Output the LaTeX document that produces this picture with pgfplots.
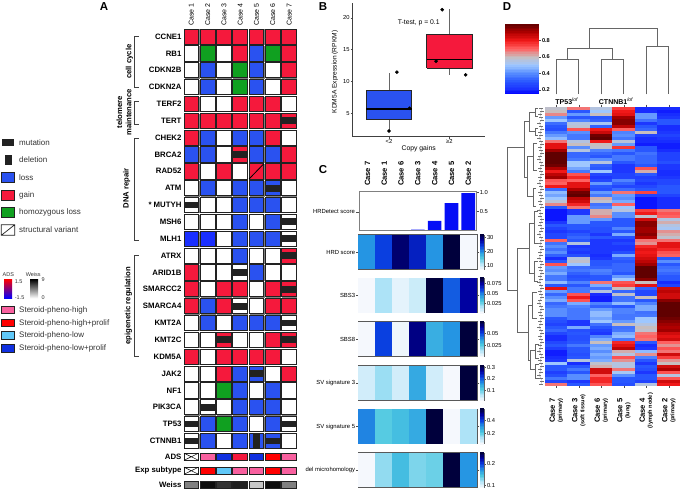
\documentclass[border=0pt]{standalone}
\usepackage{fontspec}
\setmainfont{Liberation Sans}
\usepackage{pgfplots}
\usepackage{pgfplotstable}
\pgfplotsset{compat=1.18}
\newcommand\fs[1]{\fontsize{#1}{#1}\selectfont}

\definecolor{cgain}{HTML}{F5193C}
\definecolor{closs}{HTML}{2A52F0}
\definecolor{closs2}{HTML}{1A2FFF}
\definecolor{chomo}{HTML}{10A020}
\definecolor{cedge}{HTML}{222222}
\definecolor{cpink}{HTML}{F8609F}
\definecolor{csky}{HTML}{60C8F8}
\definecolor{cnavy}{HTML}{1030E0}
\definecolor{ctext}{HTML}{333333}

% panel A cells, sizes in px (1pt = 1px)
\pgfdeclareplotmark{cell}{%
  \begin{pgfscope}\pgfsetfillcolor{gray}%
  \pgfpathrectangle{\pgfpoint{-6.8pt}{-8.4pt}}{\pgfpoint{15pt}{15.6pt}}\pgfusepathqfill\end{pgfscope}%
  \pgfsetlinewidth{0.8pt}%
  \pgfpathrectangle{\pgfpoint{-7.35pt}{-7.6pt}}{\pgfpoint{14.7pt}{15.2pt}}\pgfusepathqfillstroke}
\pgfdeclareplotmark{mut}{%
  \pgfpathrectangle{\pgfpoint{-7.35pt}{-3.4pt}}{\pgfpoint{14.7pt}{6.8pt}}\pgfusepathqfill}
\pgfdeclareplotmark{del}{%
  \pgfpathrectangle{\pgfpoint{-3.4pt}{-7.6pt}}{\pgfpoint{6.8pt}{15.2pt}}\pgfusepathqfill}
\pgfdeclareplotmark{sv}{%
  \pgfsetlinewidth{0.8pt}\pgfpathmoveto{\pgfpoint{-7.35pt}{-7.6pt}}%
  \pgfpathlineto{\pgfpoint{7.35pt}{7.6pt}}\pgfusepathqstroke}
\pgfdeclareplotmark{acell}{%
  \pgfsetlinewidth{0.7pt}%
  \pgfpathrectangle{\pgfpoint{-7.35pt}{-3.6pt}}{\pgfpoint{14.7pt}{7.2pt}}\pgfusepathqfillstroke}
\pgfdeclareplotmark{across}{%
  \pgfsetlinewidth{0.5pt}\pgfpathmoveto{\pgfpoint{-7.35pt}{-3.6pt}}\pgfpathlineto{\pgfpoint{7.35pt}{3.6pt}}%
  \pgfpathmoveto{\pgfpoint{-7.35pt}{3.6pt}}\pgfpathlineto{\pgfpoint{7.35pt}{-3.6pt}}\pgfusepathqstroke}
% panel C and D heatmap cells, and the strips of their colour bars
\pgfdeclareplotmark{hmC}{%
  \pgfpathrectangle{\pgfpoint{-8.55pt}{-17.2pt}}{\pgfpoint{17.1pt}{34.4pt}}\pgfusepathqfill}
\pgfdeclareplotmark{hmD}{%
  \pgfpathrectangle{\pgfpoint{-11.3pt}{-1.55pt}}{\pgfpoint{22.6pt}{3.1pt}}\pgfusepathqfill}
\pgfdeclareplotmark{cbC}{%
  \pgfpathrectangle{\pgfpoint{-2pt}{-0.85pt}}{\pgfpoint{4pt}{1.7pt}}\pgfusepathqfill}
\pgfdeclareplotmark{cbD}{%
  \pgfpathrectangle{\pgfpoint{-17pt}{-0.95pt}}{\pgfpoint{34pt}{1.9pt}}\pgfusepathqfill}

\pgfplotsset{
  colormap={hmblue}{rgb255(0)=(245,248,253) rgb255(1)=(174,227,247) rgb255(2)=(77,200,224)
    rgb255(3)=(37,149,227) rgb255(4)=(10,63,224) rgb255(5)=(0,0,160) rgb255(6)=(0,0,60)},
  colormap={hmred}{[1pt] rgb255(0pt)=(0,0,255) rgb255(6pt)=(26,48,255) rgb255(16pt)=(42,88,255)
    rgb255(26pt)=(90,144,255) rgb255(36pt)=(160,200,255) rgb255(46pt)=(200,190,190)
    rgb255(56pt)=(255,96,96) rgb255(66pt)=(240,24,24) rgb255(76pt)=(176,0,0) rgb255(86pt)=(96,0,0)},
  hmrow/.style={scale only axis,width=119pt,height=34.4pt,xmin=-0.5,xmax=6.5,ymin=-0.5,ymax=0.5,
    xtick=\empty,ytick={0},tick align=outside,major tick length=2pt,
    yticklabel style={font=\fs{5.9},inner sep=1pt},
    axis on top,axis line style={draw=black!65,line width=0.8pt},
    tick style={draw=black!70,line width=0.4pt},colormap name=hmblue},
  hmcells/.style={scatter,only marks,mark=hmC,point meta=explicit},
}

% colour bar of a panel C row: bottom y, tick places on the 0..6 ramp, tick labels
\newcommand\cbar[3]{%
\begin{axis}[at={(480.3pt,#1pt)},anchor=south west,scale only axis,width=4pt,height=34.4pt,
  xmin=-0.5,xmax=0.5,ymin=0,ymax=6,xtick=\empty,ytick={#2},yticklabels={#3},ytick pos=right,yticklabel pos=right,
  tick align=outside,major tick length=1.5pt,tick style={draw=black!70,line width=0.4pt},
  yticklabel style={font=\fs{5.8},inner sep=1pt},axis on top,
  axis line style={draw=black!60,line width=0.5pt},colormap name=hmblue,point meta min=0,point meta max=6]
\addplot[scatter,only marks,mark=cbC,point meta=explicit] coordinates {
(0,0)[0] (0,.25)[.25] (0,.5)[.5] (0,.75)[.75] (0,1)[1] (0,1.25)[1.25] (0,1.5)[1.5] (0,1.75)[1.75]
(0,2)[2] (0,2.25)[2.25] (0,2.5)[2.5] (0,2.75)[2.75] (0,3)[3] (0,3.25)[3.25] (0,3.5)[3.5] (0,3.75)[3.75]
(0,4)[4] (0,4.25)[4.25] (0,4.5)[4.5] (0,4.75)[4.75] (0,5)[5] (0,5.25)[5.25] (0,5.5)[5.5] (0,5.75)[5.75] (0,6)[6]};
\end{axis}}

\pgfplotstableread{
c1 c2 c3 c4 c5 c6
.58 .68 .55 .75 .2 .2
.6 .3 .5 .8 .2 .18
.66 .42 .6 .82 .42 .2
.42 .3 .3 .92 .42 .22
.5 .38 .32 .95 .35 .3
.34 .55 .52 .95 .22 .3
.3 .57 .32 .88 .3 .2
.28 .72 .8 .7 .33 .2
.36 .4 .86 .38 .6 .22
.42 .36 .98 .4 .25 .25
.48 .36 1 .36 .2 .22
.68 .55 .8 .56 .2 .2
.82 .6 .6 .42 .18 .18
.82 .4 .58 .76 .3 .18
.92 .55 .38 .36 .3 .2
1 .33 .33 .3 .35 .25
1 .33 .3 .36 .33 .25
1 .36 .4 .36 .33 .25
1 .5 .55 .3 .33 .28
.98 .5 .32 .22 .3 .22
.9 .44 .3 .22 .72 .22
.8 .36 .5 .22 .62 .2
.88 .72 .26 .25 .3 .2
.92 .78 .22 .25 .24 .22
.72 .7 .26 .38 .26 .26
.7 .82 .42 .32 .22 .26
.8 .82 .3 .26 .26 .3
.34 .9 .28 .34 .3 .3
.48 .98 .42 .68 .74 .3
.44 1 .36 .42 .25 .25
.5 .88 .62 .4 .17 .2
.56 .85 .58 .45 .17 .2
.66 .78 .35 .7 .17 .2
.3 .68 .38 .5 .17 .2
.17 .22 .62 .55 .75 .68
.17 .22 .62 .4 .8 .72
.17 .42 .66 .4 .58 .7
.17 .42 .42 .3 .85 .55
.22 .42 .3 .3 .95 .62
.3 .3 .3 .3 .95 .55
.25 .3 .28 .38 .92 .52
.22 .25 .28 .3 .92 .65
.26 .3 .22 .45 .95 .62
.26 .33 .3 .28 .9 .58
.7 .3 .22 .22 .68 .68
.35 .55 .22 .26 .65 .82
.4 .22 .22 .22 .78 .82
.35 .25 .22 .22 .82 .78
.4 .22 .22 .28 .8 .72
.32 .28 .2 .45 .82 .7
.2 .55 .22 .32 .85 .3
.3 .58 .3 .3 .88 .4
.72 .5 .3 .33 .92 .3
.42 .34 .32 .33 1 .34
.4 .36 .38 .33 1 .36
.45 .32 .36 .3 1 .33
.36 .28 .3 .42 1 .3
.36 .3 .3 .5 .95 .3
.48 .38 .68 .72 .6 .2
.3 .3 .45 .75 .82 .25
.82 .36 .35 .6 .32 .85
.42 .36 .55 .33 .26 .88
.33 .72 .2 .58 .26 .85
.4 .8 .18 .35 .6 .85
.45 .72 .18 .35 .3 .95
.33 .45 .38 .48 .38 1
.36 .38 .32 .3 .45 1
.4 .36 .42 .38 .45 1
.4 .36 .48 .38 .35 1
.4 .36 .48 .36 .36 1
.3 .36 .44 .36 .5 .98
.28 .22 .5 .42 .5 .95
.25 .22 .35 .6 .55 .92
.3 .45 .3 .35 .6 .9
.33 .28 .25 .36 .58 .92
.26 .3 .22 .45 .68 .85
.2 .28 .38 .48 .7 .82
.2 .28 .45 .36 .68 .85
.26 .3 .6 .78 .3 .7
.3 .36 .42 .82 .2 .65
.24 .3 .45 .88 .22 .72
.18 .3 .4 .62 .48 .68
.18 .28 .45 .55 .65 .85
.2 .3 .42 .72 .38 .75
.22 .55 .45 .65 .3 .65
.5 .2 .58 .55 .22 .6
.3 .3 .62 .55 .3 .85
.3 .36 .85 .68 .28 .9
.24 .3 .85 .52 .22 .72
.28 .4 .7 .4 .3 .55
.36 .4 .78 .3 .3 .72
.26 .22 .78 .3 .25 .85
.68 .3 .72 .28 .55 .8
}\heat

\begin{document}
\begin{tikzpicture}
\useasboundingbox (0,0) rectangle (680pt,489pt);

% ---- A: alteration matrix
\begin{axis}[at={(183.15pt,460.92pt)},anchor=north west,scale only axis,width=114.1pt,height=463.375pt,
  xmin=0.5,xmax=7.5,ymin=0.5,ymax=28,y dir=reverse,clip=false,
  xtick={1,...,7},xticklabels={Case 1,Case 2,Case 3,Case 4,Case 5,Case 6,Case 7},
  xticklabel pos=upper,xticklabel style={rotate=90,anchor=west,font=\fs{7},inner sep=1pt,xshift=1pt},
  ytick={1,...,25,25.94,26.77,27.62},
  yticklabels={CCNE1,RB1,CDKN2B,CDKN2A,TERF2,TERT,CHEK2,BRCA2,RAD52,ATM,* MUTYH,MSH6,MLH1,ATRX,ARID1B,SMARCC2,SMARCA4,KMT2A,KMT2C,KDM5A,JAK2,NF1,PIK3CA,TP53,CTNNB1,ADS,Exp subtype,Weiss},
  yticklabel style={font=\fs{7.8}\bfseries,inner sep=1.5pt},
  major tick length=0pt,axis line style={draw=none},tick style={draw=none}]
\addplot[scatter,only marks,point meta=explicit symbolic,
  scatter/classes={
    G={mark=cell,fill=cgain,draw=cedge},
    L={mark=cell,fill=closs,draw=cedge},
    B={mark=cell,fill=closs2,draw=cedge},
    H={mark=cell,fill=chomo,draw=cedge},
    W={mark=cell,fill=white,draw=cedge}}] coordinates {
(1,1)[G] (2,1)[G] (3,1)[G] (4,1)[G] (5,1)[G] (6,1)[G] (7,1)[G]
(1,2)[W] (2,2)[H] (3,2)[W] (4,2)[G] (5,2)[L] (6,2)[H] (7,2)[G]
(1,3)[W] (2,3)[L] (3,3)[W] (4,3)[H] (5,3)[L] (6,3)[W] (7,3)[G]
(1,4)[W] (2,4)[L] (3,4)[W] (4,4)[H] (5,4)[L] (6,4)[W] (7,4)[G]
(1,5)[G] (2,5)[W] (3,5)[W] (4,5)[G] (5,5)[G] (6,5)[G] (7,5)[W]
(1,6)[G] (2,6)[G] (3,6)[G] (4,6)[G] (5,6)[G] (6,6)[G] (7,6)[G]
(1,7)[G] (2,7)[L] (3,7)[W] (4,7)[L] (5,7)[L] (6,7)[G] (7,7)[W]
(1,8)[L] (2,8)[L] (3,8)[W] (4,8)[G] (5,8)[L] (6,8)[L] (7,8)[G]
(1,9)[G] (2,9)[W] (3,9)[G] (4,9)[W] (5,9)[G] (6,9)[G] (7,9)[G]
(1,10)[W] (2,10)[L] (3,10)[W] (4,10)[L] (5,10)[L] (6,10)[L] (7,10)[W]
(1,11)[W] (2,11)[W] (3,11)[W] (4,11)[L] (5,11)[L] (6,11)[L] (7,11)[W]
(1,12)[W] (2,12)[W] (3,12)[W] (4,12)[L] (5,12)[W] (6,12)[L] (7,12)[W]
(1,13)[B] (2,13)[B] (3,13)[W] (4,13)[L] (5,13)[L] (6,13)[L] (7,13)[W]
(1,14)[W] (2,14)[W] (3,14)[W] (4,14)[L] (5,14)[W] (6,14)[W] (7,14)[G]
(1,15)[G] (2,15)[W] (3,15)[W] (4,15)[W] (5,15)[L] (6,15)[W] (7,15)[W]
(1,16)[G] (2,16)[W] (3,16)[G] (4,16)[G] (5,16)[W] (6,16)[G] (7,16)[G]
(1,17)[G] (2,17)[L] (3,17)[G] (4,17)[W] (5,17)[W] (6,17)[G] (7,17)[G]
(1,18)[W] (2,18)[L] (3,18)[W] (4,18)[L] (5,18)[L] (6,18)[L] (7,18)[W]
(1,19)[W] (2,19)[W] (3,19)[G] (4,19)[W] (5,19)[W] (6,19)[G] (7,19)[G]
(1,20)[G] (2,20)[W] (3,20)[G] (4,20)[G] (5,20)[G] (6,20)[G] (7,20)[W]
(1,21)[W] (2,21)[W] (3,21)[G] (4,21)[L] (5,21)[L] (6,21)[W] (7,21)[G]
(1,22)[W] (2,22)[W] (3,22)[H] (4,22)[L] (5,22)[W] (6,22)[L] (7,22)[W]
(1,23)[W] (2,23)[W] (3,23)[W] (4,23)[L] (5,23)[L] (6,23)[L] (7,23)[W]
(1,24)[W] (2,24)[L] (3,24)[H] (4,24)[L] (5,24)[W] (6,24)[L] (7,24)[W]
(1,25)[W] (2,25)[L] (3,25)[W] (4,25)[L] (5,25)[L] (6,25)[L] (7,25)[W]
};
% mutations
\addplot[only marks,mark=mut,mark options={fill=cedge,draw=none}] coordinates {
(7,6) (4,8) (6,10) (1,11) (7,12) (7,13) (7,14) (4,15) (7,16) (4,17) (7,18) (3,19) (7,19) (5,21) (2,23) (1,24) (7,24) (1,25) (6,25)};
% deletion and structural variant
\addplot[only marks,mark=del,mark options={fill=cedge,draw=none}] coordinates {(5,25)};
\addplot[only marks,mark=sv,mark options={draw=black}] coordinates {(5,9)};
% annotation rows
\addplot[scatter,only marks,point meta=explicit symbolic,
  scatter/classes={
    x={mark=acell,fill=white,draw=cedge},
    p={mark=acell,fill=cpink,draw=cedge},
    b={mark=acell,fill=cnavy,draw=cedge},
    c={mark=acell,fill=cgain,draw=cedge},
    r={mark=acell,fill=red,draw=cedge},
    s={mark=acell,fill=csky,draw=cedge},
    g={mark=acell,fill=black!50,draw=cedge},
    k={mark=acell,fill=black!95,draw=cedge},
    d={mark=acell,fill=black!80,draw=cedge},
    e={mark=acell,fill=black!88,draw=cedge},
    l={mark=acell,fill=black!22,draw=cedge}}] coordinates {
(1,25.94)[x] (2,25.94)[p] (3,25.94)[b] (4,25.94)[c] (5,25.94)[b] (6,25.94)[r] (7,25.94)[p]
(1,26.77)[x] (2,26.77)[r] (3,26.77)[s] (4,26.77)[p] (5,26.77)[p] (6,26.77)[r] (7,26.77)[p]
(1,27.62)[g] (2,27.62)[k] (3,27.62)[d] (4,27.62)[e] (5,27.62)[l] (6,27.62)[k] (7,27.62)[g]
};
\addplot[only marks,mark=across,mark options={draw=black}] coordinates {(1,25.94) (1,26.77)};
\end{axis}

% ---- B: box plot
\begin{axis}[at={(352.7pt,352.3pt)},anchor=south west,scale only axis,width=132.3pt,height=133.7pt,
  xmin=0.398,xmax=2.59,ymin=1.31,ymax=22.36,axis lines=left,axis line style={-,draw=black!75,line width=0.9pt},
  xtick={1,2},xticklabels={<2,≥2},ytick={5,10,15,20},tick align=outside,major tick length=2pt,
  tick style={draw=black!70,line width=0.5pt},clip=false,
  ticklabel style={font=\fs{5.8},inner sep=1pt},/pgf/number format/assume math mode=true]
% x axis line
\addplot[black!75,line width=0.9pt,mark=none] coordinates {(0.398,1.31) (2.59,1.31)};
% whiskers
\addplot[black!60,line width=0.9pt,mark=none] coordinates {(1,2.2) (1,4.05)};
\addplot[black!60,line width=0.9pt,mark=none] coordinates {(1,8.56) (1,11.3)};
\addplot[black!60,line width=0.9pt,mark=none] coordinates {(2,11.03) (2,12.13)};
\addplot[black!60,line width=0.9pt,mark=none] coordinates {(2,17.44) (2,21.4)};
% boxes
\addplot[fill=closs,draw=black!85,line width=0.8pt,mark=none] coordinates {(0.625,4.05) (1.375,4.05) (1.375,8.56) (0.625,8.56) (0.625,4.05)};
\addplot[fill=cgain,draw=black!85,line width=0.8pt,mark=none] coordinates {(1.625,12.13) (2.375,12.13) (2.375,17.44) (1.625,17.44) (1.625,12.13)};
% medians
\addplot[black,line width=1.2pt,mark=none] coordinates {(0.625,5.68) (1.375,5.68)};
\addplot[black,line width=1.2pt,mark=none] coordinates {(1.625,13.44) (2.375,13.44)};
\addplot[only marks,mark=*,mark size=1.6pt,black] coordinates {
(1.13,11.46) (1,2.2) (1.34,5.78) (1.88,21.3) (1.78,13.19) (2.27,11.05)};
\end{axis}

% ---- C: HRDetect bars
\begin{axis}[at={(359pt,258.5pt)},anchor=south west,scale only axis,width=117.7pt,height=38.8pt,
  xmin=-0.5,xmax=6.5,ymin=0,ymax=1.02,
  xtick={0,...,6},xticklabels={Case 7,Case 1,Case 6,Case 3,Case 4,Case 5,Case 2},
  xticklabel pos=upper,xticklabel style={rotate=90,anchor=west,font=\fs{7.6}\bfseries,inner sep=1pt,xshift=2.5pt},
  xtick style={draw=none},ytick pos=right,yticklabel pos=right,ytick={0.5,1},yticklabels={0.5,1.0},
  tick align=outside,major tick length=2pt,ytick style={draw=black!70,line width=0.4pt},
  yticklabel style={font=\fs{5.8},inner sep=1pt},axis line style={draw=black!50,line width=0.8pt},axis on top]
\addplot[ybar,bar width=13.6pt,fill=blue!70!cnavy,draw=none] coordinates {
(0,0) (1,0) (2,0) (3,0.02) (4,0.25) (5,0.72) (6,0.98)};
\end{axis}

% ---- C: heatmap rows
\begin{axis}[hmrow,at={(358.3pt,219.7pt)},anchor=south west,yticklabels={HRD score},point meta min=7.5,point meta max=31.5]
\addplot[hmcells] coordinates {(0,0)[19.5] (1,0)[23.5] (2,0)[29.5] (3,0)[25.5] (4,0)[19.5] (5,0)[31.5] (6,0)[7.5]};
\end{axis}
\cbar{219.7}{.625,3.125,5.625}{10,20,30}
\begin{axis}[hmrow,at={(358.3pt,176.3pt)},anchor=south west,yticklabels={SBS3},point meta min=0.0025,point meta max=0.0885]
\addplot[hmcells] coordinates {(0,0)[.0025] (1,0)[.017] (2,0)[.006] (3,0)[.011] (4,0)[.0885] (5,0)[.055] (6,0)[.074]};
\end{axis}
\cbar{176.3}{1.57,3.31,5.06}{0.025,0.05,0.075}
\begin{axis}[hmrow,at={(358.3pt,132.7pt)},anchor=south west,yticklabels={SBS8},point meta min=0.0013,point meta max=0.0746]
\addplot[hmcells] coordinates {(0,0)[.0013] (1,0)[.05] (2,0)[.0025] (3,0)[.066] (4,0)[.032] (5,0)[.038] (6,0)[.0746]};
\end{axis}
\cbar{132.7}{1.94,3.99}{0.025,0.05}
\begin{axis}[hmrow,at={(358.3pt,88.7pt)},anchor=south west,yticklabels={SV signature 3},point meta min=0.014,point meta max=0.311]
\addplot[hmcells] coordinates {(0,0)[.039] (1,0)[.073] (2,0)[.039] (3,0)[.143] (4,0)[.039] (5,0)[.014] (6,0)[.311]};
\end{axis}
\cbar{88.7}{1.74,3.76,5.78}{0.1,0.2,0.3}
\begin{axis}[hmrow,at={(358.3pt,45.3pt)},anchor=south west,yticklabels={SV signature 5},point meta min=0.04,point meta max=0.569]
\addplot[hmcells] coordinates {(0,0)[.322] (1,0)[.208] (2,0)[.234] (3,0)[.269] (4,0)[.569] (5,0)[.04] (6,0)[.128]};
\end{axis}
\cbar{45.3}{1.81,4.08}{0.2,0.4}
\begin{axis}[hmrow,at={(358.3pt,1.7pt)},anchor=south west,yticklabels={del microhomology},point meta min=0.089,point meta max=0.252]
\addplot[hmcells] coordinates {(0,0)[.089] (1,0)[.124] (2,0)[.149] (3,0)[.13] (4,0)[.135] (5,0)[.252] (6,0)[.17]};
\end{axis}
\cbar{1.7}{.40,4.09}{0.1,0.2}

% ---- D: expression heatmap
\begin{axis}[at={(545pt,103.3pt)},anchor=south west,scale only axis,width=135pt,height=279pt,
  xmin=-0.5,xmax=5.5,ymin=-0.5,ymax=92.5,ytick=\empty,xtick={0,...,5},
  xticklabels={{{\fs{7.6}\bfseries Case 7}\\(primary)},{{\fs{7.6}\bfseries Case 3}\\(soft tissue)},{{\fs{7.6}\bfseries Case 6}\\(primary)},{{\fs{7.6}\bfseries Case 5}\\(lung)},{{\fs{7.6}\bfseries Case 4}\\(lymph node)},{{\fs{7.6}\bfseries Case 2}\\(primary)}},
  xticklabel style={rotate=90,anchor=center,align=center,font=\fontsize{5.6}{7}\selectfont\bfseries,xshift=-23pt,inner sep=0pt},
  tick align=outside,major tick length=2pt,tick style={draw=black!70,line width=0.4pt},
  axis line style={draw=none},colormap name=hmred,point meta min=0.144,point meta max=1]
\addplot[scatter,only marks,mark=hmD,point meta=explicit] table[x expr=0,y expr={92-\coordindex},meta=c1] {\heat};
\addplot[scatter,only marks,mark=hmD,point meta=explicit] table[x expr=1,y expr={92-\coordindex},meta=c2] {\heat};
\addplot[scatter,only marks,mark=hmD,point meta=explicit] table[x expr=2,y expr={92-\coordindex},meta=c3] {\heat};
\addplot[scatter,only marks,mark=hmD,point meta=explicit] table[x expr=3,y expr={92-\coordindex},meta=c4] {\heat};
\addplot[scatter,only marks,mark=hmD,point meta=explicit] table[x expr=4,y expr={92-\coordindex},meta=c5] {\heat};
\addplot[scatter,only marks,mark=hmD,point meta=explicit] table[x expr=5,y expr={92-\coordindex},meta=c6] {\heat};
\end{axis}

% ---- D: colour bar
\begin{axis}[at={(505.3pt,394.7pt)},anchor=south west,scale only axis,width=34pt,height=70pt,
  xmin=-0.5,xmax=0.5,ymin=0.144,ymax=1,xtick=\empty,ytick={0.2,0.4,0.6,0.8},yticklabels={0.2,0.4,0.6,0.8},
  ytick pos=right,yticklabel pos=right,tick align=outside,major tick length=1.5pt,
  tick style={draw=black!70,line width=0.4pt},yticklabel style={font=\fs{5.6}\bfseries,inner sep=1pt},
  axis line style={draw=none},colormap name=hmred,point meta min=0.144,point meta max=1]
\addplot[scatter,only marks,mark=cbD,point meta=explicit] coordinates {
(0,.155)[.155] (0,.17)[.17] (0,.19)[.19] (0,.21)[.21] (0,.23)[.23] (0,.25)[.25] (0,.27)[.27] (0,.29)[.29] (0,.31)[.31] (0,.33)[.33]
(0,.35)[.35] (0,.37)[.37] (0,.39)[.39] (0,.41)[.41] (0,.43)[.43] (0,.45)[.45] (0,.47)[.47] (0,.49)[.49] (0,.51)[.51] (0,.53)[.53]
(0,.55)[.55] (0,.57)[.57] (0,.59)[.59] (0,.61)[.61] (0,.63)[.63] (0,.65)[.65] (0,.67)[.67] (0,.69)[.69] (0,.71)[.71] (0,.73)[.73]
(0,.75)[.75] (0,.77)[.77] (0,.79)[.79] (0,.81)[.81] (0,.83)[.83] (0,.85)[.85] (0,.87)[.87] (0,.89)[.89] (0,.91)[.91] (0,.93)[.93]
(0,.95)[.95] (0,.97)[.97] (0,.99)[.99]};
\end{axis}

% ---- D: dendrograms, in picture pixels
\begin{axis}[at={(0pt,0pt)},anchor=south west,scale only axis,width=680pt,height=489pt,
  xmin=0,xmax=680,ymin=0,ymax=489,y dir=reverse,hide axis,clip=false,unbounded coords=jump]
\addplot[black!60,line width=0.8pt,mark=none] coordinates {
(556.3,94.3)(556.3,59.3)(578.7,59.3)(578.7,94.3) (0,nan)
(601,94.3)(601,59)(623.3,59)(623.3,94.3) (0,nan)
(567.5,59.3)(567.5,48.3)(612.3,48.3)(612.3,59) (0,nan)
(646,94.3)(646,46.3)(668.3,46.3)(668.3,94.3) (0,nan)
(589.7,48.3)(589.7,28.7)(657.3,28.7)(657.3,46.3)
};
\addplot[black!60,line width=0.8pt,mark=none] coordinates {
(517.3,290.3)(507.7,290.3)(507.7,147.3)(524,147.3) (0,nan)
(529.3,121.7)(524,121.7)(524,177.5)(527.7,177.5) (0,nan)
(535,112.7)(529.3,112.7)(529.3,131.7)(535,131.7) (0,nan)
(538,108.5)(535,108.5)(535,116.5)(538,116.5) (0,nan)
(538,128.5)(535,128.5)(535,135)(538,135) (0,nan)
(533.3,156)(527.7,156)(527.7,196.7)(533.3,196.7) (0,nan)
(537,143)(533.3,143)(533.3,170)(537,170) (0,nan)
(536,188)(533.3,188)(533.3,206)(536,206) (0,nan)
(529.3,248.3)(517.3,248.3)(517.3,332)(528.7,332) (0,nan)
(534,223)(529.3,223)(529.3,273.3)(534,273.3) (0,nan)
(538,211.7)(534,211.7)(534,243)(538,243) (0,nan)
(538,261.7)(534,261.7)(534,281.7)(538,281.7) (0,nan)
(532.7,305)(528.7,305)(528.7,360)(530,360) (0,nan)
(537,292.7)(532.7,292.7)(532.7,318)(537,318) (0,nan)
(535,350)(530,350)(530,369.3)(535,369.3) (0,nan)
(539,344)(535,344)(535,358)(539,358) (0,nan)
(539,364)(535,364)(535,378)(539,378)
};
\addplot[black!35,line width=0.3pt,mark=-,mark size=2pt,mark options={black!55,line width=0.35pt}] coordinates {
(541,108) (542,111) (540,114) (541,117) (542,120) (539,123) (541,126) (542,129) (540,132) (541,135)
(539,138) (541,141) (542,144) (540,147) (541,150) (542,153) (540,156) (539,159) (541,162) (542,165)
(540,168) (541,171) (542,174) (540,177) (541,180) (539,183) (541,186) (542,189) (540,192) (541,195)
(542,198) (540,201) (541,204) (542,207) (539,210) (541,213) (540,216) (542,219) (541,222) (540,225)
(542,228) (541,231) (539,234) (541,237) (542,240) (540,243) (541,246) (542,249) (540,252) (541,255)
(539,258) (541,261) (542,264) (540,267) (541,270) (542,273) (540,276) (541,279) (539,282) (541,285)
(542,288) (540,291) (541,294) (542,297) (540,300) (539,303) (541,306) (542,309) (540,312) (541,315)
(542,318) (540,321) (541,324) (539,327) (541,330) (542,333) (540,336) (541,339) (542,342) (540,345)
(541,348) (539,351) (541,354) (542,357) (540,360) (541,363) (542,366) (540,369) (541,372) (539,375)
(541,378) (542,381) (541,384)
};
\end{axis}

% ---- text and keys, y counted from the top
\begin{scope}[x=1pt,y=-1pt,yshift=489pt]
\foreach \n/\x/\y in {A/104/7,B/323/7,C/323/170,D/507/7}
  \node[font=\fs{11.5}\bfseries] at (\x,\y) {\n};

% A: key
\fill[cedge] (2,139.3) rectangle (14.3,145.7);
\fill[cedge] (5.3,155) rectangle (11.7,165);
\draw[cedge,fill=closs,line width=0.7pt] (1.3,172.7) rectangle (14.7,182.7);
\draw[cedge,fill=cgain,line width=0.7pt] (1.3,190) rectangle (14.7,200);
\draw[cedge,fill=chomo,line width=0.7pt] (1.3,207.3) rectangle (14.7,217.3);
\draw[cedge,fill=white,line width=0.7pt] (1.3,224.8) rectangle (14.7,235.3) (1.3,235.3) -- (14.7,224.8);
\foreach \t/\y in {mutation/142.7,deletion/160,loss/178,gain/195,homozygous loss/212.5,structural variant/230}
  \node[anchor=west,font=\fs{8},text=ctext,inner sep=0pt] at (19,\y) {\t};
\node[font=\fs{5.5},text=ctext] at (8.3,274.7) {ADS};
\node[font=\fs{5.5},text=ctext] at (33.3,274.7) {Weiss};
\shade[top color=red,middle color=black!60!red!70!blue,bottom color=blue] (4,279.3) rectangle (12,298.3);
\shade[top color=black,bottom color=white] (30,279.3) rectangle (38,298.3);
\node[anchor=west,font=\fs{5.5},text=ctext,inner sep=0pt] at (14.7,281.7) {1.5};
\node[anchor=west,font=\fs{5.5},text=ctext,inner sep=0pt] at (14.7,297.3) {-1.5};
\node[anchor=west,font=\fs{5.5},text=ctext,inner sep=0pt] at (41.5,279.7) {9};
\node[anchor=west,font=\fs{5.5},text=ctext,inner sep=0pt] at (41.5,297.3) {0};
\foreach \c/\t/\y in {cpink/Steroid-pheno-high/310,red/Steroid-pheno-high+prolif/322.7,csky/Steroid-pheno-low/335.3,cnavy/Steroid-pheno-low+prolif/348.3}{
  \draw[cedge,fill=\c,line width=0.7pt] (1.3,\y-3.6) rectangle (14.7,\y+3.6);
  \node[anchor=west,font=\fs{8},text=ctext,inner sep=0pt] at (19,\y+0.5) {\t};
}

% A: brackets
\draw[black!75,line width=0.9pt] (138.7,36.7) -- (134,36.7) -- (134,87.3) -- (138.7,87.3);
\draw[black!75,line width=0.9pt] (138.7,101.7) -- (134,101.7) -- (134,124.3) -- (138.7,124.3);
\draw[black!75,line width=0.9pt] (138.7,138) -- (134,138) -- (134,240) -- (138.7,240);
\draw[black!75,line width=0.9pt] (138.7,255) -- (134,255) -- (134,356) -- (138.7,356);
\node[rotate=90,font=\fs{7.7}\bfseries] at (129.3,61.7) {cell cycle};
\node[rotate=90,font=\fs{7.7}\bfseries] at (119.3,112.3) {telomere};
\node[rotate=90,font=\fs{7.7}\bfseries] at (128.7,112.3) {maintenance};
\node[rotate=90,font=\fs{7.7}\bfseries] at (126.7,188.3) {DNA repair};
\node[rotate=90,font=\fs{7.7}\bfseries] at (128.3,305.7) {epigenetic regulation};

% B: labels
\node[rotate=90,font=\fs{6.6}] at (335,72) {KDM5A Expression (RPKM)};
\node[font=\fs{6.8}] at (418.7,149) {Copy gains};
\node[font=\fs{6.8}] at (418.7,23.3) {T-test, p = 0.1};

% C: label of the bar row
\node[anchor=east,font=\fs{5.9},inner sep=0pt] at (355,212) {HRDetect score};
\draw[black!70,line width=0.4pt] (356,212) -- (359,212);

% D: labels over the heatmap
\node[font=\fs{7}\bfseries] at (566.7,101) {TP53$^{\mathit{lof}}$};
\node[font=\fs{7}\bfseries] at (616,101) {CTNNB1$^{\mathit{lof}}$};
\end{scope}
\end{tikzpicture}
\end{document}
